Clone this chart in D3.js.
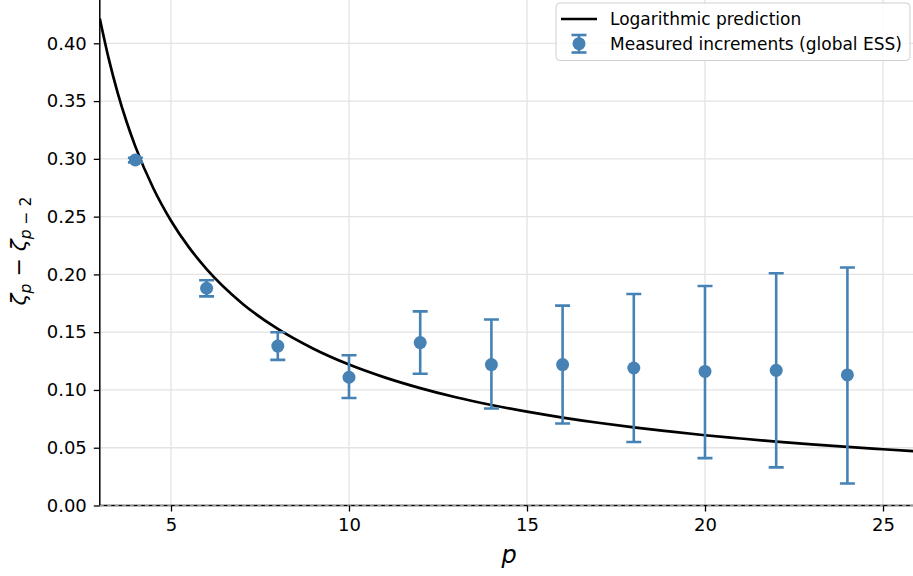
<!DOCTYPE html>
<html>
<head>
<meta charset="utf-8">
<script src="https://cdn.jsdelivr.net/npm/d3@7"></script>
<style>
  body { margin: 0; background: #fff; }
  svg { display: block; font-family: "DejaVu Sans", sans-serif; }
</style>
</head>
<body>
<svg id="chart" width="913" height="576"></svg>
<script>
// measured increments (dots + error bars)
var pValues = [4, 6, 8, 10, 12, 14, 16, 18, 20, 22, 24];
var measured = [0.299, 0.188, 0.138, 0.111, 0.141, 0.122, 0.122, 0.119, 0.116, 0.117, 0.113];
var errLow  = [0.297, 0.181, 0.126, 0.093, 0.114, 0.084, 0.071, 0.055, 0.041, 0.033, 0.019];
var errHigh = [0.301, 0.195, 0.150, 0.130, 0.168, 0.161, 0.173, 0.183, 0.190, 0.201, 0.206];

// logarithmic prediction curve
var curveP = [3, 3.25, 3.5, 3.75, 4, 4.5, 5, 5.5, 6, 7, 8, 9, 10, 11, 12, 13, 14, 15, 16, 17, 18, 19, 20, 21, 22, 23, 24, 25, 26];
var curveV = [0.4214, 0.3867, 0.3574, 0.3323, 0.3106, 0.2748, 0.2465, 0.2236, 0.2046, 0.1749, 0.1528, 0.1357,
              0.1220, 0.1109, 0.1016, 0.0937, 0.0870, 0.0812, 0.0761, 0.0716, 0.0676, 0.0641, 0.0608, 0.0580,
              0.0553, 0.0529, 0.0507, 0.0487, 0.0468];

var xTicks = [5, 10, 15, 20, 25];
var yTicks = [0, 0.05, 0.10, 0.15, 0.20, 0.25, 0.30, 0.35, 0.40];

var blue = "#4682b4";

var svg = d3.select("#chart");

var x = d3.scaleLinear().domain([3, 26]).range([99.8, 918.6]);
var y = d3.scaleLinear().domain([0, 0.44]).range([505.5, -2.9]);

var plotL = 99.8, plotR = 913, plotT = 0, plotB = 505.5;

svg.append("defs").append("clipPath").attr("id", "clip")
  .append("rect").attr("x", plotL).attr("y", plotT - 5)
  .attr("width", plotR - plotL).attr("height", plotB - plotT + 5);

// grid
var grid = svg.append("g");
grid.selectAll(".vg").data(xTicks).enter().append("line")
  .attr("x1", function(d){ return x(d); }).attr("x2", function(d){ return x(d); })
  .attr("y1", plotT).attr("y2", plotB)
  .attr("stroke", "#e3e3e3").attr("stroke-width", 1.3);
grid.selectAll(".hg").data(yTicks).enter().append("line")
  .attr("x1", plotL).attr("x2", plotR)
  .attr("y1", function(d){ return y(d); }).attr("y2", function(d){ return y(d); })
  .attr("stroke", "#e3e3e3").attr("stroke-width", 1.3);

var plot = svg.append("g").attr("clip-path", "url(#clip)");

// prediction curve
var line = d3.line()
  .x(function(d, i){ return x(curveP[i]); })
  .y(function(d){ return y(d); })
  .curve(d3.curveMonotoneX);
plot.append("path").datum(curveV)
  .attr("d", line)
  .attr("fill", "none").attr("stroke", "#000").attr("stroke-width", 2.7);

// error bars
var eb = plot.selectAll(".eb").data(pValues).enter().append("g");
eb.append("line")
  .attr("x1", function(d){ return x(d); }).attr("x2", function(d){ return x(d); })
  .attr("y1", function(d, i){ return y(errLow[i]); })
  .attr("y2", function(d, i){ return y(errHigh[i]); })
  .attr("stroke", blue).attr("stroke-width", 2.6);
[errLow, errHigh].forEach(function(arr){
  eb.append("line")
    .attr("x1", function(d){ return x(d) - 7.5; }).attr("x2", function(d){ return x(d) + 7.5; })
    .attr("y1", function(d, i){ return y(arr[i]); })
    .attr("y2", function(d, i){ return y(arr[i]); })
    .attr("stroke", blue).attr("stroke-width", 2.6);
});
eb.append("circle")
  .attr("cx", function(d){ return x(d); })
  .attr("cy", function(d, i){ return y(measured[i]); })
  .attr("r", 6.5).attr("fill", blue);

// spines
svg.append("line").attr("x1", plotL).attr("x2", plotL).attr("y1", plotT).attr("y2", plotB)
  .attr("stroke", "#000").attr("stroke-width", 1.5);
svg.append("line").attr("x1", plotL).attr("x2", plotR).attr("y1", plotB).attr("y2", plotB)
  .attr("stroke", "#000").attr("stroke-width", 1.5);
// dashed zero line
svg.append("line").attr("x1", plotL).attr("x2", plotR).attr("y1", y(0)).attr("y2", y(0))
  .attr("stroke", "#999").attr("stroke-width", 1).attr("stroke-dasharray", "4,3.5");

// axes
var xAxis = d3.axisBottom(x).tickValues(xTicks).tickSize(6).tickPadding(7).tickFormat(d3.format("d"));
var gx = svg.append("g").attr("transform", "translate(0," + plotB + ")").call(xAxis);
var yAxis = d3.axisLeft(y).tickValues(yTicks).tickSize(6).tickPadding(7).tickFormat(d3.format(".2f"));
var gy = svg.append("g").attr("transform", "translate(" + plotL + ",0)").call(yAxis);
[gx, gy].forEach(function(g){
  g.attr("font-size", 18).attr("font-family", "DejaVu Sans");
  g.select(".domain").remove();
  g.selectAll(".tick line").attr("stroke", "#000").attr("stroke-width", 1.3);
  g.selectAll(".tick text").attr("fill", "#000").attr("font-size", 18)
    .style("font-size", "18px").style("font-family", "DejaVu Sans");
});

// axis labels
svg.append("text").attr("x", 509).attr("y", 563)
  .attr("text-anchor", "middle")
  .style("font-size", "24px").style("font-style", "italic")
  .text("p");

var yl = svg.append("text")
  .attr("transform", "translate(26,251) rotate(-90)")
  .attr("text-anchor", "middle")
  .style("font-size", "22px");
yl.append("tspan").style("font-style", "italic").text("ζ");
yl.append("tspan").attr("dy", 5).style("font-size", "15.5px").style("font-style", "italic").text("p");
yl.append("tspan").attr("dy", -5).text(" − ");
yl.append("tspan").style("font-style", "italic").text("ζ");
yl.append("tspan").attr("dy", 5).style("font-size", "15.5px").style("font-style", "italic").text("p");
yl.append("tspan").style("font-size", "15.5px").text(" − 2");

// legend
var lg = svg.append("g");
lg.append("rect").attr("x", 556).attr("y", 3).attr("width", 354).attr("height", 57.5)
  .attr("rx", 4).attr("fill", "#fff").attr("fill-opacity", 0.85)
  .attr("stroke", "#d0d0d0").attr("stroke-width", 1);
lg.append("line").attr("x1", 561).attr("x2", 597).attr("y1", 19).attr("y2", 19)
  .attr("stroke", "#000").attr("stroke-width", 2.7);
lg.append("line").attr("x1", 579).attr("x2", 579).attr("y1", 35).attr("y2", 52.5)
  .attr("stroke", blue).attr("stroke-width", 2.6);
lg.append("line").attr("x1", 571.5).attr("x2", 586.5).attr("y1", 35).attr("y2", 35)
  .attr("stroke", blue).attr("stroke-width", 2.6);
lg.append("line").attr("x1", 571.5).attr("x2", 586.5).attr("y1", 52.5).attr("y2", 52.5)
  .attr("stroke", blue).attr("stroke-width", 2.6);
lg.append("circle").attr("cx", 579).attr("cy", 43.7).attr("r", 6.5).attr("fill", blue);
lg.append("text").attr("x", 610).attr("y", 25).style("font-size", "17px").text("Logarithmic prediction");
lg.append("text").attr("x", 610).attr("y", 49.5).style("font-size", "17px").text("Measured increments (global ESS)");
</script>
</body>
</html>
